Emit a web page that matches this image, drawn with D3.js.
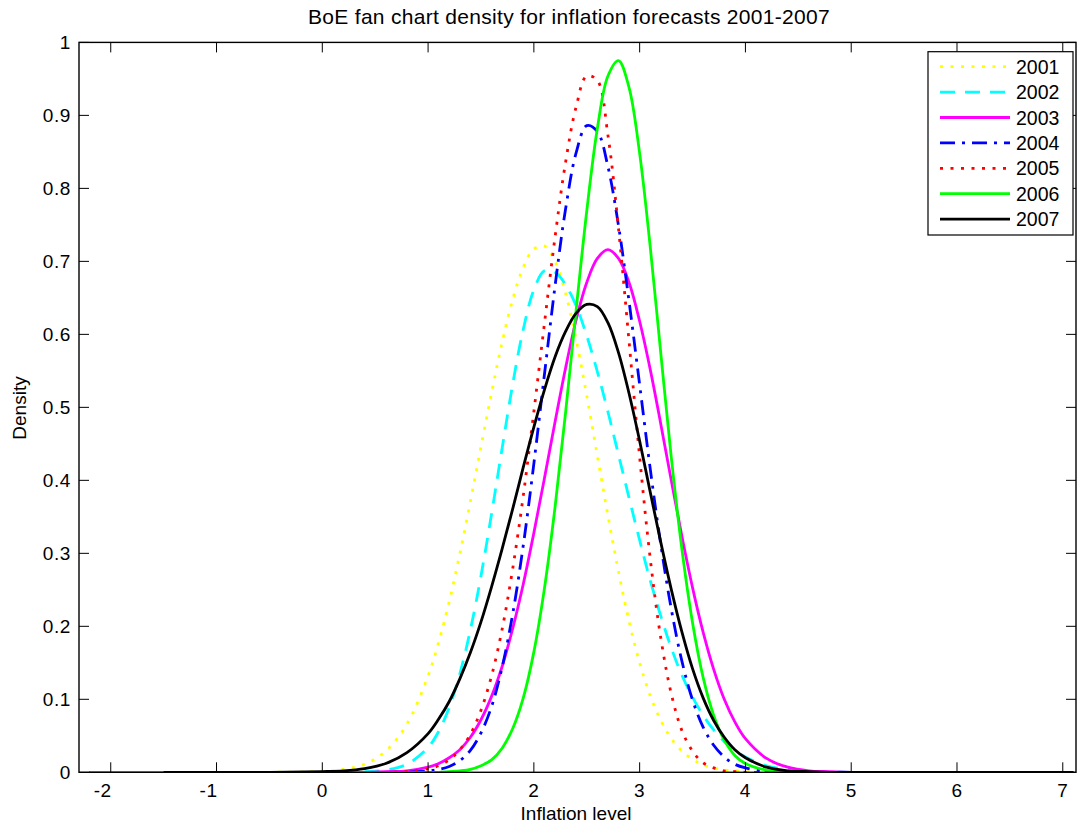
<!DOCTYPE html>
<html>
<head>
<meta charset="utf-8">
<script src="https://cdn.jsdelivr.net/npm/d3@7"></script>
<style>
  body { margin: 0; background: #fff; }
  text { font-family: "Liberation Sans", Arial, sans-serif; fill: #000; }
</style>
</head>
<body>
<svg id="chart" width="1080" height="827"></svg>
<script>
var inflation = [-2.2, -1.5, -1, -0.5, 0, 0.2, 0.4, 0.6, 0.8,
  1.0, 1.1, 1.2, 1.3, 1.4, 1.5, 1.6, 1.7, 1.8, 1.9,
  2.0, 2.1, 2.2, 2.3, 2.4, 2.5, 2.6, 2.7, 2.8, 2.9,
  3.0, 3.1, 3.2, 3.3, 3.4, 3.5, 3.6, 3.7, 3.8, 3.9,
  4.0, 4.2, 4.4, 4.6, 4.8, 5, 5.5, 6, 6.5, 7.1];

// Density for each forecast year
var d2001 = [0, 0, 0, 0, 0.001, 0.004, 0.011, 0.029, 0.066,
  0.132, 0.178, 0.234, 0.299, 0.371, 0.446, 0.520, 0.589, 0.648, 0.692,
  0.717, 0.721, 0.700, 0.656, 0.593, 0.516, 0.434, 0.352, 0.275, 0.207,
  0.150, 0.105, 0.071, 0.046, 0.029, 0.018, 0.010, 0.006, 0.003, 0.002,
  0.001, 0, 0, 0, 0, 0, 0, 0, 0, 0];
var d2002 = [0, 0, 0, 0, 0, 0, 0.001, 0.003, 0.011,
  0.034, 0.056, 0.089, 0.135, 0.195, 0.269, 0.354, 0.444, 0.532, 0.607,
  0.661, 0.687, 0.685, 0.668, 0.639, 0.598, 0.549, 0.494, 0.435, 0.376,
  0.318, 0.263, 0.214, 0.170, 0.133, 0.103, 0.078, 0.058, 0.042, 0.030,
  0.021, 0.009, 0.004, 0.001, 0.001, 0, 0, 0, 0, 0];
var d2003 = [0, 0, 0, 0, 0, 0, 0, 0.001, 0.002,
  0.007, 0.012, 0.020, 0.031, 0.048, 0.072, 0.104, 0.145, 0.197, 0.258,
  0.328, 0.403, 0.480, 0.554, 0.620, 0.671, 0.704, 0.716, 0.704, 0.671,
  0.618, 0.552, 0.477, 0.399, 0.323, 0.253, 0.192, 0.141, 0.100, 0.069,
  0.046, 0.019, 0.007, 0.002, 0.001, 0, 0, 0, 0, 0];
var d2004 = [0, 0, 0, 0, 0, 0, 0, 0, 0,
  0.002, 0.004, 0.008, 0.016, 0.030, 0.054, 0.090, 0.144, 0.217, 0.311,
  0.423, 0.545, 0.666, 0.772, 0.849, 0.886, 0.878, 0.830, 0.749, 0.645,
  0.531, 0.416, 0.312, 0.223, 0.152, 0.099, 0.062, 0.037, 0.021, 0.011,
  0.006, 0.001, 0, 0, 0, 0, 0, 0, 0, 0];
var d2005 = [0, 0, 0, 0, 0, 0, 0, 0, 0.001,
  0.005, 0.009, 0.017, 0.031, 0.052, 0.085, 0.132, 0.196, 0.279, 0.379,
  0.494, 0.615, 0.733, 0.836, 0.912, 0.954, 0.948, 0.873, 0.745, 0.590,
  0.432, 0.293, 0.184, 0.107, 0.057, 0.029, 0.013, 0.006, 0.002, 0.001,
  0, 0, 0, 0, 0, 0, 0, 0, 0, 0];
var d2006 = [0, 0, 0, 0, 0, 0, 0, 0, 0,
  0, 0, 0.001, 0.002, 0.004, 0.009, 0.017, 0.033, 0.060, 0.102,
  0.165, 0.252, 0.363, 0.493, 0.634, 0.769, 0.882, 0.954, 0.975, 0.938,
  0.848, 0.720, 0.574, 0.430, 0.305, 0.205, 0.130, 0.078, 0.044, 0.023,
  0.012, 0.003, 0.001, 0, 0, 0, 0, 0, 0, 0];
var d2007 = [null, 0, 0, 0, 0.001, 0.002, 0.005, 0.012, 0.027,
  0.053, 0.073, 0.097, 0.128, 0.164, 0.206, 0.254, 0.306, 0.361, 0.418,
  0.473, 0.524, 0.569, 0.604, 0.629, 0.641, 0.638, 0.616, 0.575, 0.519,
  0.454, 0.384, 0.315, 0.250, 0.192, 0.142, 0.102, 0.071, 0.048, 0.031,
  0.020, 0.007, 0.002, 0.001, 0, 0, 0, 0, 0, 0];

var years = ["2001", "2002", "2003", "2004", "2005", "2006", "2007"];
var xTicks = [-2, -1, 0, 1, 2, 3, 4, 5, 6, 7];
var yTicks = [0, 0.1, 0.2, 0.3, 0.4, 0.5, 0.6, 0.7, 0.8, 0.9, 1];
var yTickLabels = ["0", "0.1", "0.2", "0.3", "0.4", "0.5", "0.6", "0.7", "0.8", "0.9", "1"];

// matlab style line specs
var styles = [
  { color: "#ffff00", dash: "3,7.5" },
  { color: "#00ffff", dash: "15,10" },
  { color: "#ff00ff", dash: null },
  { color: "#0000ff", dash: "15,7,3,7" },
  { color: "#ff0000", dash: "3,7.5" },
  { color: "#00ff00", dash: null },
  { color: "#000000", dash: null }
];

var series = [d2001, d2002, d2003, d2004, d2005, d2006, d2007];

var svg = d3.select("#chart");
// plot box edges (don't call these top/left, window.top is taken)
var boxL = 79, boxR = 1076, boxT = 42.4, boxB = 772.3;

var x = d3.scaleLinear().domain([-2.3, 7.125]).range([boxL, boxR]);
var y = d3.scaleLinear().domain([0, 1]).range([boxB, boxT]);

svg.append("clipPath").attr("id", "clip")
  .append("rect")
  .attr("x", boxL).attr("y", boxT)
  .attr("width", boxR - boxL).attr("height", boxB - boxT);

// Draw the curves in plotting order
var line = d3.line()
  .defined(d => d[1] != null)
  .x(d => x(d[0]))
  .y(d => y(d[1]))
  .curve(d3.curveCatmullRom.alpha(0.5));

var plot = svg.append("g").attr("clip-path", "url(#clip)");
series.forEach((vals, i) => {
  var pts = inflation.map((v, j) => [v, vals[j]]);
  var p = plot.append("path")
    .attr("d", line(pts))
    .attr("fill", "none")
    .attr("stroke", styles[i].color)
    .attr("stroke-width", 2.8);
  if (styles[i].dash) p.attr("stroke-dasharray", styles[i].dash);
});

// Axes box with inward ticks on all four sides
var axes = svg.append("g");
xTicks.forEach(t => {
  axes.append("line").attr("x1", x(t)).attr("x2", x(t))
    .attr("y1", boxB).attr("y2", boxB - 10)
    .attr("stroke", "#000").attr("stroke-width", 1);
  axes.append("line").attr("x1", x(t)).attr("x2", x(t))
    .attr("y1", boxT).attr("y2", boxT + 10)
    .attr("stroke", "#000").attr("stroke-width", 1);
  // matlab puts the minus sign left of the centred digit
  axes.append("text")
    .attr("x", x(t) + (t < 0 ? -8 : 0)).attr("y", boxB + 25)
    .attr("text-anchor", "middle")
    .attr("font-size", 19)
    .style("letter-spacing", "0.6px")
    .text(t);
});
yTicks.forEach((t, i) => {
  axes.append("line").attr("x1", boxL).attr("x2", boxL + 10)
    .attr("y1", y(t)).attr("y2", y(t))
    .attr("stroke", "#000").attr("stroke-width", 1);
  axes.append("line").attr("x1", boxR).attr("x2", boxR - 10)
    .attr("y1", y(t)).attr("y2", y(t))
    .attr("stroke", "#000").attr("stroke-width", 1);
  axes.append("text")
    .attr("x", boxL - 8).attr("y", y(t) + 7)
    .attr("text-anchor", "end")
    .attr("font-size", 19)
    .style("letter-spacing", "0.6px")
    .text(yTickLabels[i]);
});
axes.append("rect")
  .attr("x", boxL).attr("y", boxT)
  .attr("width", boxR - boxL).attr("height", boxB - boxT)
  .attr("fill", "none").attr("stroke", "#000").attr("stroke-width", 1.4);

// Title and axis labels
svg.append("text")
  .attr("x", 569).attr("y", 24)
  .attr("text-anchor", "middle")
  .attr("font-size", 21)
  .style("letter-spacing", "0.3px")
  .text("BoE fan chart density for inflation forecasts 2001-2007");

svg.append("text")
  .attr("x", 576).attr("y", 820)
  .attr("text-anchor", "middle")
  .attr("font-size", 19)
  .text("Inflation level");

svg.append("text")
  .attr("transform", "translate(26,408) rotate(-90)")
  .attr("text-anchor", "middle")
  .attr("font-size", 19)
  .text("Density");

// Legend
var legend = svg.append("g");
legend.append("rect")
  .attr("x", 928).attr("y", 51.7)
  .attr("width", 145).attr("height", 183.3)
  .attr("fill", "#fff").attr("stroke", "#000").attr("stroke-width", 1.2);

years.forEach((yr, i) => {
  var ly = 66.7 + i * 25.4;
  var l = legend.append("line")
    .attr("x1", 940).attr("x2", 1010)
    .attr("y1", ly).attr("y2", ly)
    .attr("stroke", styles[i].color)
    .attr("stroke-width", 2.8);
  if (styles[i].dash) l.attr("stroke-dasharray", styles[i].dash);
  legend.append("text")
    .attr("x", 1016).attr("y", ly + 7)
    .attr("font-size", 19.5)
    .text(yr);
});
</script>
</body>
</html>
